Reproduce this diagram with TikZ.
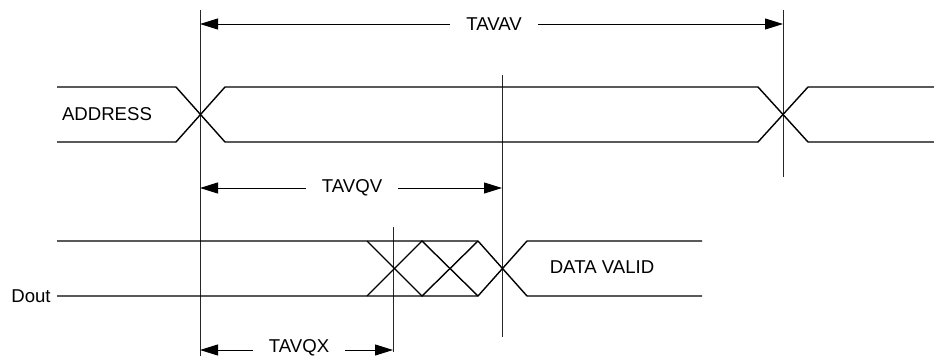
\documentclass[tikz,border=0pt]{standalone}
\usepackage{fontspec}
\setmainfont{Liberation Sans}
\usetikzlibrary{arrows.meta}
\begin{document}
\begin{tikzpicture}[x=1pt,y=-1pt,
  bus/.style={line width=1.4pt, line join=miter},
  vline/.style={line width=0.9pt, black!85},
  dimline/.style={line width=1pt, -{Triangle[length=18pt,width=11pt]}},
  lbl/.style={font=\fontsize{18.6}{20}\selectfont, inner sep=0pt},
  dimlbl/.style={lbl, inner xsep=16pt, inner ysep=1pt}]
\useasboundingbox (0,0) rectangle (934,356);

% vertical reference lines
\coordinate (v1t) at (200,10);   \coordinate (v1b) at (200,356);
\coordinate (v2t) at (783,10);   \coordinate (v2b) at (783,177);
\coordinate (v3t) at (502,75);   \coordinate (v3b) at (502,337);
\coordinate (v4t) at (393,227);  \coordinate (v4b) at (393,352);
\draw[vline] (v1t) -- (v1b);
\draw[vline] (v2t) -- (v2b);
\draw[vline] (v3t) -- (v3b);
\draw[vline] (v4t) -- (v4b);

% ADDRESS bus
\draw[bus] (57,87) -- (176,87) -- (225,142) -- (758,142) -- (808,87) -- (934,87);
\draw[bus] (57,142) -- (176,142) -- (225,87) -- (758,87) -- (808,142) -- (934,142);
\node[lbl] (addr) at (107,114) {ADDRESS};

% Dout bus
\draw[bus] (57,241) -- (478,241) -- (527,296) -- (702,296);
\draw[bus] (57,296) -- (478,296) -- (527,241) -- (702,241);
\draw[bus] (367,241) -- (422,296) -- (478,241);
\draw[bus] (367,296) -- (422,241) -- (478,296);
\node[lbl] (dv) at (602,267) {DATA VALID};
\node[lbl] (dout) at (31,296) {Dout};

% TAVAV
\coordinate (a1) at (200,24); \coordinate (a2) at (783,24);
\node[dimlbl] (tavav) at (494,24) {TAVAV};
\draw[dimline] (tavav) -- (a1);
\draw[dimline] (tavav) -- (a2);

% TAVQV
\coordinate (b1) at (200,188); \coordinate (b2) at (502,188);
\node[dimlbl] (tavqv) at (352,188) {TAVQV};
\draw[dimline] (tavqv) -- (b1);
\draw[dimline] (tavqv) -- (b2);

% TAVQX
\coordinate (c1) at (200,350); \coordinate (c2) at (393,350);
\node[dimlbl] (tavqx) at (299,347.5) {TAVQX};
\draw[dimline] (tavqx.west |- c1) -- (c1);
\draw[dimline] (tavqx.east |- c2) -- (c2);
\end{tikzpicture}
\end{document}
